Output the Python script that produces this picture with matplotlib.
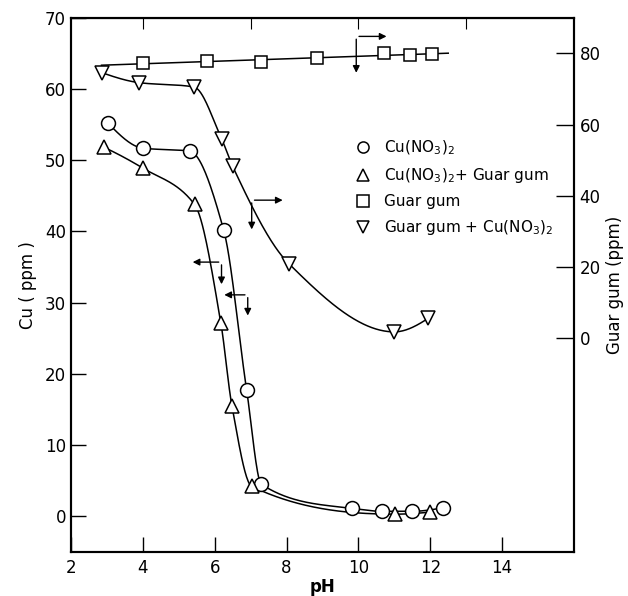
import numpy as np
import matplotlib
matplotlib.use("Agg")
import matplotlib.pyplot as plt

# Cu(NO3)2 alone (left axis)
ph_cu = [3.03, 4.0, 5.3, 6.25, 6.89, 7.3, 9.83, 10.67, 11.5, 12.36]
cu_cu = [55.2, 51.7, 51.3, 40.2, 17.7, 4.5, 1.1, 0.7, 0.7, 1.2]

# Cu(NO3)2 + Guar gum (left axis)
ph_cug = [2.93, 4.0, 5.44, 6.17, 6.48, 7.03, 11.03, 12.0]
cu_cug = [51.8, 48.9, 43.8, 27.2, 15.5, 4.2, 0.3, 0.6]

# Guar gum alone (right axis)
ph_g = [4.0, 5.78, 7.28, 8.86, 10.72, 11.44, 12.06]
g_g = [77.4, 77.9, 77.5, 78.6, 80.1, 79.7, 79.8]

# Guar gum + Cu(NO3)2 (right axis)
ph_gcu = [2.86, 3.9, 5.42, 6.19, 6.5, 8.06, 11.0, 11.94]
g_gcu = [74.6, 71.8, 70.6, 56.1, 48.3, 21.0, 1.8, 5.6]

# axis indicator arrows: corner x, corner y (left-axis units), horizontal end x, vertical end y
arrows = [(6.19, 35.7, 5.31, 32.2),
          (6.92, 31.1, 6.19, 27.8),
          (7.03, 44.4, 7.97, 39.9),
          (9.94, 67.4, 10.86, 61.9)]


def pchip(x, y, xs):
    x = np.asarray(x, float); y = np.asarray(y, float)
    h = np.diff(x); d = np.diff(y) / h
    n = len(x)
    m = np.zeros(n)
    for k in range(1, n - 1):
        if d[k - 1] * d[k] > 0:
            w1 = 2 * h[k] + h[k - 1]
            w2 = h[k] + 2 * h[k - 1]
            m[k] = (w1 + w2) / (w1 / d[k - 1] + w2 / d[k])
    def end(h0, h1, d0, d1):
        e = ((2 * h0 + h1) * d0 - h0 * d1) / (h0 + h1)
        if np.sign(e) != np.sign(d0):
            e = 0.0
        elif np.sign(d0) != np.sign(d1) and abs(e) > abs(3 * d0):
            e = 3 * d0
        return e
    m[0] = end(h[0], h[1], d[0], d[1])
    m[-1] = end(h[-1], h[-2], d[-1], d[-2])
    idx = np.clip(np.searchsorted(x, xs) - 1, 0, n - 2)
    t = (xs - x[idx]) / h[idx]
    h00 = 2 * t**3 - 3 * t**2 + 1
    h10 = t**3 - 2 * t**2 + t
    h01 = -2 * t**3 + 3 * t**2
    h11 = t**3 - t**2
    return h00 * y[idx] + h10 * h[idx] * m[idx] + h01 * y[idx + 1] + h11 * h[idx] * m[idx + 1]


plt.rcParams['font.family'] = 'DejaVu Sans'
fig = plt.figure(figsize=(6.28, 5.96), dpi=100)
ax = fig.add_axes([0.113, 0.074, 0.801, 0.896])
ax2 = ax.twinx()

mk = dict(ms=10, mfc='white', mec='black', mew=1.1, ls='none', zorder=5)

for xs_, ys_, m, a in [(ph_cu, cu_cu, 'o', ax), (ph_cug, cu_cug, '^', ax),
                       (ph_gcu, g_gcu, 'v', ax2)]:
    xx = np.linspace(xs_[0], xs_[-1], 400)
    a.plot(xx, pchip(xs_, ys_, xx), color='black', lw=1.1)
    a.plot(xs_, ys_, marker=m, **mk)

coef = np.polyfit(ph_g, g_g, 1)
xl = np.array([2.85, 12.5])
ax2.plot(xl, np.polyval(coef, xl), color='black', lw=1.1)
ax2.plot(ph_g, g_g, marker='s', **dict(mk, ms=8.5))

for cx, cy, hx, vy in arrows:
    ax.annotate('', xy=(hx, cy), xytext=(cx, cy),
                arrowprops=dict(arrowstyle='-|>', color='black', lw=1.0, mutation_scale=10))
    ax.annotate('', xy=(cx, vy), xytext=(cx, cy),
                arrowprops=dict(arrowstyle='-|>', color='black', lw=1.0, mutation_scale=10))

ax.set_xlim(2, 16)
ax.set_ylim(-5, 70)
ax2.set_ylim(-60, 90)
ax.set_xticks([2, 4, 6, 8, 10, 12, 14])
ax.set_yticks(range(0, 71, 10))
ax2.set_yticks(range(0, 81, 20))

ax.tick_params(axis='both', direction='in', length=11, width=1, labelsize=12)
ax.tick_params(axis='x', pad=5)
ax2.tick_params(axis='y', direction='in', length=13, width=1, labelsize=12, pad=4)
sec = ax.secondary_xaxis('top')
sec.set_xticks([4, 7, 10, 13])
sec.tick_params(direction='in', length=8, labeltop=False)

for a in (ax, ax2):
    for s in a.spines.values():
        s.set_linewidth(1.5)

ax.set_xlabel('pH', fontsize=12, fontweight='bold', labelpad=1)
ax.set_ylabel('Cu ( ppm )', fontsize=12, labelpad=6)
ax2.set_ylabel('Guar gum (ppm)', fontsize=12, labelpad=4)

handles = [plt.Line2D([], [], marker=m, **dict(mk, ms=8)) for m in ['o', '^', 's', 'v']]
labels = [r'Cu(NO$_3$)$_2$', r'Cu(NO$_3$)$_2$+ Guar gum', 'Guar gum',
          r'Guar gum + Cu(NO$_3$)$_2$']
ax.legend(handles, labels, loc='upper left', bbox_to_anchor=(0.535, 0.8),
          frameon=False, fontsize=11, handlelength=1.2, handletextpad=0.8,
          labelspacing=0.6)

fig.savefig('out.png', dpi=100)
